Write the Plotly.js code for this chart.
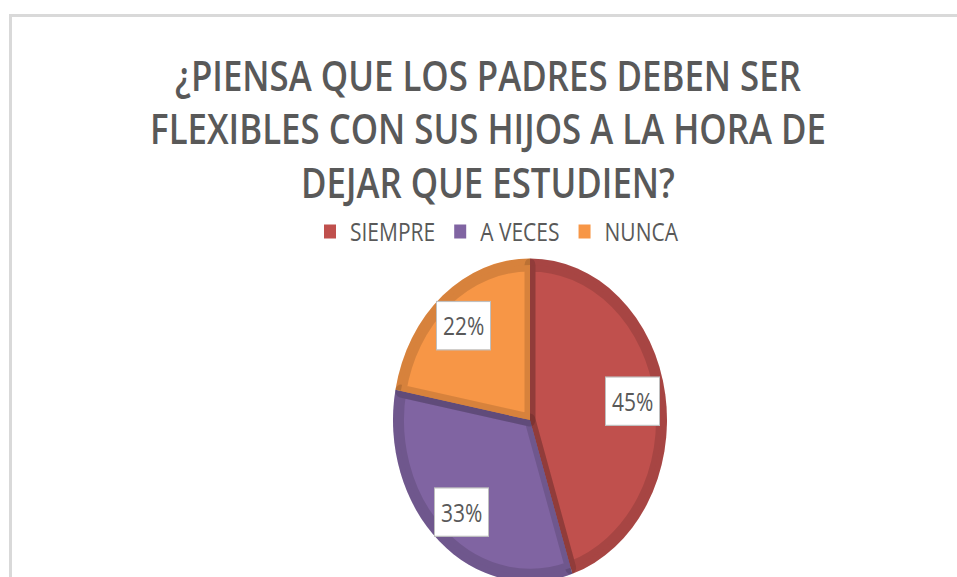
<!DOCTYPE html>
<html>
<head>
<meta charset="utf-8">
<script src="https://cdn.plot.ly/plotly-3.0.1.min.js"></script>
<style>
  html, body { margin: 0; padding: 0; background: #ffffff; overflow: hidden; width: 957px; height: 577px; }
  #chart { width: 957px; height: 500px; transform: scaleY(1.18); transform-origin: 0 0; }
</style>
</head>
<body>
<div id="chart"></div>
<script>
// ---- data ----
const categories = ["SIEMPRE", "A VECES", "NUNCA"];
const percentValues = [45, 33, 22];
const sliceColors = ["#C0504D", "#8064A2", "#F79646"];
const chartTitle = "¿PIENSA QUE LOS PADRES DEBEN SER<br>FLEXIBLES CON SUS HIJOS A LA HORA DE<br>DEJAR QUE ESTUDIEN?";

// ---- layout geometry (pixels of the unstretched plot) ----
const W = 957, H = 500;
const cx = 530, cy = 356, R = 137, band = 11;

function domainFor(r) {
  return {
    x: [(cx - r) / W, (cx + r) / W],
    y: [(H - cy - r) / H, (H - cy + r) / H]
  };
}

const outerPie = {
  type: "pie",
  labels: categories,
  values: percentValues,
  sort: false,
  direction: "clockwise",
  rotation: 0,
  marker: { colors: sliceColors, line: { width: 0 } },
  textinfo: "none",
  hoverinfo: "skip",
  showlegend: true,
  domain: domainFor(R)
};

const innerPie = {
  type: "pie",
  labels: categories,
  values: percentValues,
  sort: false,
  direction: "clockwise",
  rotation: 0,
  marker: { colors: sliceColors, line: { width: band, color: "rgba(0,0,0,0.13)" } },
  textinfo: "none",
  hoverinfo: "skip",
  showlegend: false,
  domain: domainFor(R - band / 2)
};

// percentage labels placed along each slice's mid-angle
const total = percentValues.reduce((a, b) => a + b, 0);
const labelFactor = 0.76;
let cum = 0;
const annotations = percentValues.map((v) => {
  const mid = (cum + v / 2) / total * 2 * Math.PI;
  cum += v;
  const px = cx + labelFactor * R * Math.sin(mid);
  const py = cy - labelFactor * R * Math.cos(mid);
  return {
    xref: "paper", yref: "paper",
    x: px / W, y: 1 - py / H,
    xanchor: "center", yanchor: "middle",
    text: Math.round(v / total * 100) + "%",
    showarrow: false,
    font: { family: "Open Sans", size: 21, color: "#595959" },
    bgcolor: "#ffffff",
    bordercolor: "#bfbfbf",
    borderwidth: 1,
    borderpad: 6
  };
});

const layout = {
  width: W,
  height: H,
  margin: { l: 0, r: 0, t: 0, b: 0 },
  paper_bgcolor: "#ffffff",
  title: {
    text: chartTitle,
    font: { family: "Open Sans", size: 34.8, color: "#595959", weight: 600 },
    x: 488 / W,
    xanchor: "center",
    xref: "paper",
    yref: "container",
    y: 0.846,
    yanchor: "middle"
  },
  legend: {
    orientation: "h",
    x: 497 / W,
    xanchor: "center",
    y: 1 - 176 / H,
    yanchor: "top",
    font: { family: "Open Sans", size: 21, color: "#595959" },
    bgcolor: "rgba(0,0,0,0)"
  },
  shapes: [
    { type: "line", xref: "paper", yref: "paper", x0: 9 / W, x1: 1, y0: 1 - 13.1 / H, y1: 1 - 13.1 / H,
      line: { color: "#d9d9d9", width: 2.5 } },
    { type: "line", xref: "paper", yref: "paper", x0: 10.5 / W, x1: 10.5 / W, y0: 0, y1: 1 - 12 / H,
      line: { color: "#d9d9d9", width: 3 } }
  ],
  annotations: annotations
};

Plotly.newPlot("chart", [outerPie, innerPie], layout, { staticPlot: true, displayModeBar: false });
</script>
</body>
</html>
